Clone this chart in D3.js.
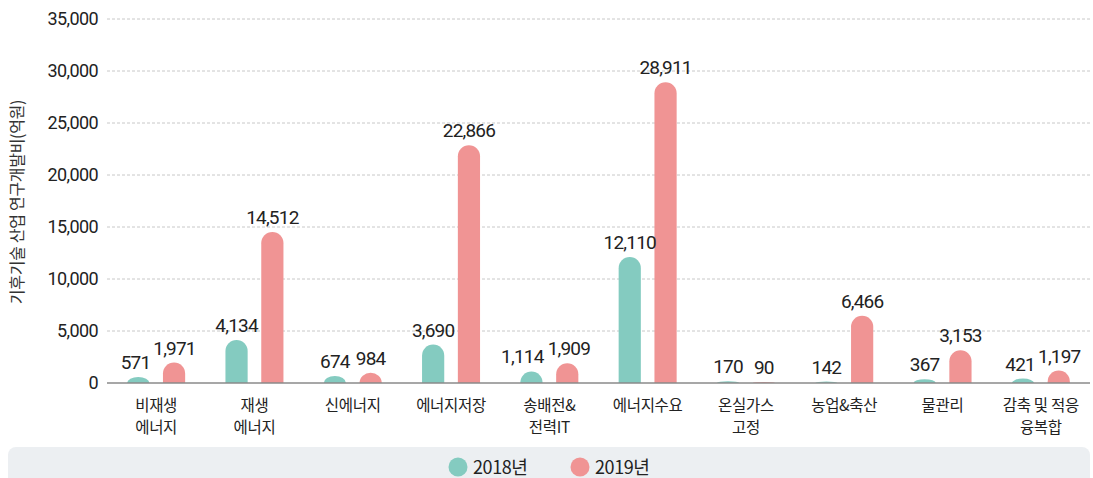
<!DOCTYPE html>
<html>
<head>
<meta charset="utf-8">
<script src="https://cdn.jsdelivr.net/npm/d3@7"></script>
<style>
  body { margin: 0; background: #fff; }
  svg { display: block; font-family: "Noto Sans CJK KR", "Noto Sans", sans-serif; }
  .num { font-family: Roboto, "Noto Sans", sans-serif; }
</style>
</head>
<body>
<div id="chart"></div>
<script>
const WIDTH = 1093
const HEIGHT = 478
const MARGIN = { TOP: 19, BOTTOM: 95, LEFT: 107, RIGHT: 3 }

const categories = [
  ["비재생", "에너지"],
  ["재생", "에너지"],
  ["신에너지"],
  ["에너지저장"],
  ["송배전&", "전력IT"],
  ["에너지수요"],
  ["온실가스", "고정"],
  ["농업&축산"],
  ["물관리"],
  ["감축 및 적응", "융복합"]
]
const series = ["2018년", "2019년"]
const values2018 = [571, 4134, 674, 3690, 1114, 12110, 170, 142, 367, 421]
const values2019 = [1971, 14512, 984, 22866, 1909, 28911, 90, 6466, 3153, 1197]
const yTicks = [0, 5000, 10000, 15000, 20000, 25000, 30000, 35000]
const colors = ["#84cbc0", "#f09494"]
const yTitle = "기후기술 산업 연구개발비(억원)"

const svg = d3.select("#chart").append("svg")
    .attr("width", WIDTH)
    .attr("height", HEIGHT)

const x0 = MARGIN.LEFT, x1 = WIDTH - MARGIN.RIGHT
const yBase = HEIGHT - MARGIN.BOTTOM

const y = d3.scaleLinear().domain([0, 35000]).range([yBase, MARGIN.TOP])
const x = d3.scaleBand().domain(d3.range(categories.length)).range([x0, x1])
const xs = d3.scaleBand().domain([0, 1]).range([x.bandwidth() / 2 - 29, x.bandwidth() / 2 + 29]).paddingInner(0.38)

// legend panel
svg.append("rect")
    .attr("x", 8).attr("y", 447)
    .attr("width", WIDTH - 11).attr("height", 50)
    .attr("rx", 8)
    .attr("fill", "#eceff2")

// gridlines
svg.append("g").selectAll("line")
  .data(yTicks.filter(d => d > 0))
  .join("line")
    .attr("x1", x0).attr("x2", x1)
    .attr("y1", d => y(d)).attr("y2", d => y(d))
    .attr("stroke", "#c8c8c8")
    .attr("stroke-dasharray", "3,2")

// y axis labels
const yAxis = d3.axisLeft(y).tickValues(yTicks).tickFormat(d3.format(",")).tickSize(0).tickPadding(9)
svg.append("g")
    .attr("transform", `translate(${x0},0)`)
    .call(yAxis)
    .call(g => g.select(".domain").remove())
    .call(g => g.selectAll("text")
        .attr("class", "num")
        .attr("font-size", 18).attr("fill", "#222")
        .attr("letter-spacing", -0.6)
        .attr("font-family", null))

svg.append("text")
    .attr("transform", `translate(23,${202}) rotate(-90)`)
    .attr("text-anchor", "middle")
    .attr("font-size", 16)
    .attr("fill", "#333")
    .attr("letter-spacing", -0.3)
    .text(yTitle)

// bars with rounded tops
function barPath(bx, w, top, bottom) {
  const h = bottom - top
  const rx = w / 2
  const ry = Math.min(rx, h)
  return `M${bx},${bottom}V${top + ry}A${rx},${ry} 0 0 1 ${bx + w},${top + ry}V${bottom}Z`
}

const rows = categories.map((c, i) => ({ i, vals: [values2018[i], values2019[i]] }))

const groups = svg.append("g").selectAll("g")
  .data(rows)
  .join("g")
    .attr("transform", d => `translate(${x(d.i)},0)`)

groups.selectAll("path")
  .data(d => d.vals.map((v, s) => ({ v, s })))
  .join("path")
    .attr("d", d => barPath(xs(d.s), xs.bandwidth(), y(d.v), yBase))
    .attr("fill", d => colors[d.s])

groups.selectAll("text.val")
  .data(d => d.vals.map((v, s) => ({ v, s })))
  .join("text")
    .attr("class", "val num")
    .attr("x", d => xs(d.s) + xs.bandwidth() / 2)
    .attr("y", d => y(d.v) - 8)
    .attr("text-anchor", "middle")
    .attr("font-size", 19)
    .attr("fill", "#222")
    .attr("letter-spacing", -0.8)
    .text(d => d3.format(",")(d.v))

// push apart labels of a pair that would collide
groups.each(function() {
  const t = d3.select(this).selectAll("text.val").nodes()
  const a = t[0].getBBox(), b = t[1].getBBox()
  if (a.y + a.height < b.y || b.y + b.height < a.y) return
  const over = a.x + a.width - b.x + 3
  if (over > 0) {
    d3.select(t[0]).attr("x", +t[0].getAttribute("x") - over * 0.85)
    d3.select(t[1]).attr("x", +t[1].getAttribute("x") + over * 0.15)
  }
})

// baseline
svg.append("line")
    .attr("x1", x0).attr("x2", x1)
    .attr("y1", yBase).attr("y2", yBase)
    .attr("stroke", "#8a8a8a")
    .attr("stroke-width", 1.5)

// category labels
groups.append("text")
    .attr("text-anchor", "middle")
    .attr("font-size", 15.5)
    .attr("fill", "#222")
    .attr("letter-spacing", -0.3)
    .selectAll("tspan")
    .data(d => categories[d.i])
    .join("tspan")
      .attr("x", x.bandwidth() / 2)
      .attr("y", (d, k) => yBase + 28 + k * 22)
      .text(d => d)

// legend
const legend = svg.append("g").selectAll("g")
  .data(series)
  .join("g")
    .attr("transform", (d, i) => `translate(${458 + i * 122},467)`)

legend.append("circle")
    .attr("r", 9.5)
    .attr("fill", (d, i) => colors[i])

legend.append("text")
    .attr("x", 15)
    .attr("y", 7)
    .attr("font-size", 18)
    .attr("fill", "#222")
    .attr("letter-spacing", -0.4)
    .text(d => d)
</script>
</body>
</html>
